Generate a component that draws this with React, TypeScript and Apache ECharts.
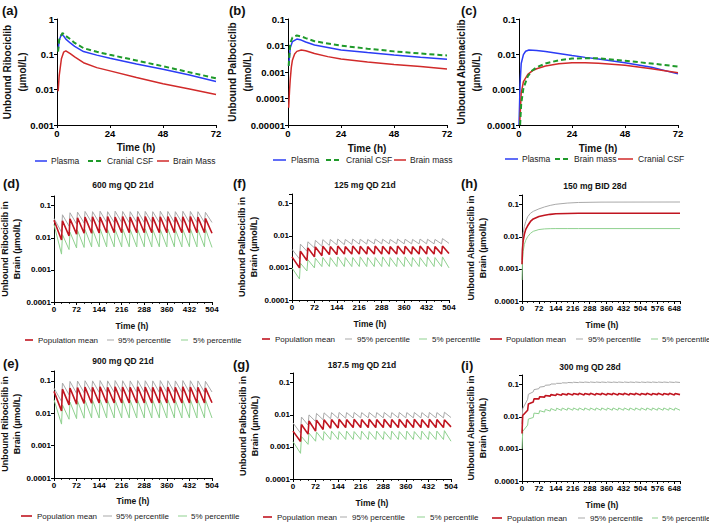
import React, { useEffect, useRef } from "react";
import * as echarts from "echarts";

const FONT = "'Liberation Sans', Arial, Helvetica, sans-serif";

// ---------- Row 1: single-dose profiles (0-72 h) ----------
const aPlasmaT = [0.5, 1, 2, 3, 4, 6, 8, 12, 18, 24, 36, 48, 60, 72];
const aPlasmaV = [0.13, 0.25, 0.37, 0.33, 0.27, 0.21, 0.168, 0.12, 0.095, 0.078, 0.053, 0.038, 0.026, 0.017];
const aCsfT = [0.5, 1, 2.5, 4, 6, 8, 12, 18, 24, 36, 48, 60, 72];
const aCsfV = [0.12, 0.26, 0.4, 0.33, 0.27, 0.21, 0.15, 0.118, 0.097, 0.067, 0.046, 0.031, 0.021];
const aBrainT = [0.5, 1, 2, 3, 4, 6, 8, 12, 18, 24, 36, 48, 60, 72];
const aBrainV = [0.009, 0.025, 0.075, 0.115, 0.125, 0.105, 0.085, 0.058, 0.042, 0.034, 0.022, 0.0148, 0.0105, 0.0073];

const bPlasmaT = [0.3, 1, 2, 4, 6, 8, 12, 24, 36, 48, 60, 72];
const bPlasmaV = [0.0017, 0.008, 0.014, 0.0175, 0.016, 0.0135, 0.0105, 0.0068, 0.0054, 0.0044, 0.0036, 0.003];
const bCsfT = [0.3, 1, 2, 4, 6, 8, 12, 24, 36, 48, 60, 72];
const bCsfV = [0.0017, 0.012, 0.02, 0.024, 0.022, 0.019, 0.0145, 0.0098, 0.0076, 0.006, 0.005, 0.0042];
const bBrainT = [0.3, 0.7, 1, 1.5, 2, 3, 4, 6, 8, 12, 18, 24, 36, 48, 60, 72];
const bBrainV = [0.000045, 0.0002, 0.0005, 0.0015, 0.0028, 0.0048, 0.006, 0.0068, 0.0063, 0.005, 0.0038, 0.0031, 0.0024, 0.0019, 0.0016, 0.0013];

const cPlasmaT = [0, 0.5, 1, 2, 3, 4.5, 8, 12, 24, 30, 36, 48, 60, 72];
const cPlasmaV = [0.0001, 0.0015, 0.0055, 0.0098, 0.0122, 0.0132, 0.0128, 0.012, 0.0092, 0.0082, 0.0074, 0.0058, 0.0043, 0.0028];
const cBrainT = [0.5, 1, 2, 4, 6, 8, 12, 18, 24, 30, 36, 48, 60, 72];
const cBrainV = [0.0001, 0.0004, 0.0011, 0.0024, 0.0035, 0.0043, 0.0055, 0.0068, 0.0076, 0.0078, 0.0077, 0.0066, 0.0055, 0.0045];
const cCsfT = [0.3, 1, 2, 4, 6, 8, 12, 18, 24, 30, 36, 48, 60, 72];
const cCsfV = [0.0001, 0.0008, 0.0017, 0.0027, 0.0034, 0.0039, 0.0047, 0.0054, 0.0058, 0.0058, 0.0056, 0.0049, 0.0039, 0.003];

// ---------- Rows 2-3: 21-day QD (troughs at dose time, peaks 3 h later) ----------
const T21 = [0, 24, 27, 48, 51, 72, 75, 96, 99, 120, 123, 144, 147, 168, 171, 192, 195, 216, 219, 240, 243,
  264, 267, 288, 291, 312, 315, 336, 339, 360, 363, 384, 387, 408, 411, 432, 435, 456, 459, 480, 483, 504];

const dMean = [0.035,
  0.0085, 0.034, 0.0115, 0.039, 0.013, 0.042, 0.0138, 0.044, 0.014, 0.045,
  0.0142, 0.044, 0.0143, 0.046, 0.0143, 0.044, 0.0143, 0.046, 0.0143, 0.044,
  0.0143, 0.045, 0.0143, 0.046, 0.0143, 0.044, 0.0143, 0.045, 0.0143, 0.046,
  0.0143, 0.044, 0.0143, 0.045, 0.0143, 0.046, 0.0143, 0.044, 0.0143, 0.040,
  0.0138];
const d95 = [0.040,
  0.015, 0.052, 0.023, 0.060, 0.027, 0.063, 0.029, 0.066, 0.030, 0.065,
  0.030, 0.067, 0.030, 0.065, 0.030, 0.067, 0.030, 0.066, 0.030, 0.065,
  0.030, 0.067, 0.030, 0.066, 0.030, 0.065, 0.030, 0.067, 0.030, 0.066,
  0.030, 0.065, 0.030, 0.067, 0.030, 0.066, 0.030, 0.065, 0.030, 0.062,
  0.030];
const d5 = [0.026,
  0.0031, 0.0125, 0.0043, 0.015, 0.0048, 0.017, 0.0050, 0.018, 0.0052, 0.018,
  0.0052, 0.019, 0.0052, 0.018, 0.0052, 0.018, 0.0052, 0.019, 0.0052, 0.018,
  0.0052, 0.018, 0.0052, 0.019, 0.0052, 0.018, 0.0052, 0.018, 0.0052, 0.019,
  0.0052, 0.018, 0.0052, 0.018, 0.0052, 0.019, 0.0052, 0.018, 0.0052, 0.019,
  0.0050];

const eMean = [0.047,
  0.0118, 0.055, 0.018, 0.060, 0.019, 0.062, 0.020, 0.064, 0.0203, 0.063,
  0.0205, 0.065, 0.0205, 0.063, 0.0205, 0.065, 0.0205, 0.064, 0.0205, 0.063,
  0.0205, 0.065, 0.0205, 0.064, 0.0205, 0.063, 0.0205, 0.065, 0.0205, 0.064,
  0.0205, 0.063, 0.0205, 0.065, 0.0205, 0.064, 0.0205, 0.063, 0.0205, 0.060,
  0.021];
const e95 = [0.059,
  0.023, 0.085, 0.037, 0.095, 0.041, 0.098, 0.043, 0.100, 0.044, 0.099,
  0.044, 0.101, 0.044, 0.099, 0.044, 0.101, 0.044, 0.100, 0.044, 0.099,
  0.044, 0.101, 0.044, 0.100, 0.044, 0.099, 0.044, 0.101, 0.044, 0.100,
  0.044, 0.099, 0.044, 0.101, 0.044, 0.100, 0.044, 0.099, 0.044, 0.096,
  0.045];
const e5 = [0.026,
  0.0046, 0.018, 0.0065, 0.022, 0.0068, 0.024, 0.0070, 0.025, 0.0071, 0.025,
  0.0071, 0.026, 0.0071, 0.025, 0.0071, 0.025, 0.0071, 0.026, 0.0071, 0.025,
  0.0071, 0.025, 0.0071, 0.026, 0.0071, 0.025, 0.0071, 0.025, 0.0071, 0.026,
  0.0071, 0.025, 0.0071, 0.025, 0.0071, 0.026, 0.0071, 0.025, 0.0071, 0.026,
  0.0071];

const fMean = [0.0022,
  0.0010, 0.0033, 0.0017, 0.0042, 0.0022, 0.0045, 0.0024, 0.0047, 0.0026, 0.0046,
  0.0026, 0.0048, 0.0027, 0.0046, 0.0027, 0.0048, 0.0027, 0.0047, 0.0027, 0.0046,
  0.0027, 0.0048, 0.0027, 0.0047, 0.0027, 0.0046, 0.0027, 0.0048, 0.0027, 0.0047,
  0.0027, 0.0046, 0.0027, 0.0048, 0.0027, 0.0047, 0.0027, 0.0046, 0.0027, 0.0048,
  0.0028];
const f95 = [0.0038,
  0.0019, 0.0055, 0.0033, 0.0065, 0.0042, 0.0072, 0.0047, 0.0076, 0.0050, 0.0077,
  0.0052, 0.0079, 0.0053, 0.0077, 0.0054, 0.0079, 0.0055, 0.0078, 0.0055, 0.0077,
  0.0056, 0.0079, 0.0056, 0.0078, 0.0056, 0.0077, 0.0056, 0.0079, 0.0056, 0.0078,
  0.0056, 0.0077, 0.0056, 0.0079, 0.0056, 0.0078, 0.0056, 0.0077, 0.0056, 0.0082,
  0.0058];
const f5 = [0.0010,
  0.00045, 0.0014, 0.0008, 0.0018, 0.0010, 0.0020, 0.0011, 0.0021, 0.0011, 0.0021,
  0.0011, 0.0022, 0.0011, 0.0021, 0.0011, 0.0021, 0.0011, 0.0022, 0.0011, 0.0021,
  0.0011, 0.0021, 0.0011, 0.0022, 0.0011, 0.0021, 0.0011, 0.0021, 0.0011, 0.0022,
  0.0011, 0.0021, 0.0011, 0.0021, 0.0011, 0.0022, 0.0011, 0.0021, 0.0011, 0.0022,
  0.0010];

const gMean = [0.0031,
  0.00147, 0.0050, 0.0025, 0.0064, 0.0031, 0.0068, 0.0035, 0.0070, 0.0038, 0.0071,
  0.0039, 0.0072, 0.0040, 0.0071, 0.0040, 0.0072, 0.0040, 0.0071, 0.0040, 0.0072,
  0.0040, 0.0071, 0.0040, 0.0072, 0.0040, 0.0071, 0.0040, 0.0072, 0.0040, 0.0071,
  0.0040, 0.0072, 0.0040, 0.0071, 0.0040, 0.0072, 0.0040, 0.0071, 0.0040, 0.0070,
  0.0042];
const g95 = [0.0056,
  0.0027, 0.0085, 0.0048, 0.0099, 0.0062, 0.0110, 0.0070, 0.0115, 0.0075, 0.0117,
  0.0077, 0.0118, 0.0078, 0.0117, 0.0079, 0.0118, 0.0080, 0.0117, 0.0080, 0.0118,
  0.0080, 0.0117, 0.0080, 0.0118, 0.0080, 0.0117, 0.0080, 0.0118, 0.0080, 0.0117,
  0.0080, 0.0118, 0.0080, 0.0117, 0.0080, 0.0118, 0.0080, 0.0117, 0.0080, 0.0120,
  0.0082];
const g5 = [0.00147,
  0.00063, 0.0021, 0.0012, 0.0027, 0.0015, 0.0029, 0.0016, 0.0030, 0.0017, 0.0031,
  0.0017, 0.0030, 0.0017, 0.0031, 0.0017, 0.0030, 0.0017, 0.0031, 0.0017, 0.0030,
  0.0017, 0.0031, 0.0017, 0.0030, 0.0017, 0.0031, 0.0017, 0.0030, 0.0017, 0.0031,
  0.0017, 0.0030, 0.0017, 0.0031, 0.0017, 0.0030, 0.0017, 0.0031, 0.0017, 0.0032,
  0.0015];

// ---------- (h) 150 mg BID 28d ----------
const hT = [0, 2, 5, 10, 16, 24, 36, 48, 72, 96, 120, 144, 192, 240, 336, 672];
const hMean = [0.0014, 0.004, 0.0075, 0.012, 0.017, 0.022, 0.030, 0.036, 0.043, 0.047, 0.050, 0.052, 0.053, 0.054, 0.054, 0.054];
const h95 = [0.0019, 0.007, 0.013, 0.021, 0.030, 0.042, 0.054, 0.062, 0.074, 0.085, 0.095, 0.103, 0.112, 0.117, 0.120, 0.121];
const h5 = [0.00045, 0.0017, 0.0035, 0.0058, 0.0078, 0.0100, 0.0128, 0.0148, 0.0168, 0.0176, 0.0179, 0.0180, 0.0180, 0.0180, 0.0180, 0.0180];

// ---------- (i) 300 mg QD 28d ----------
const T28 = [0, 3, 24, 27, 48, 51, 72, 75, 96, 99, 120, 123, 144, 147, 168, 171, 192, 195, 216, 219, 240, 243,
  264, 267, 288, 291, 312, 315, 336, 339, 360, 363, 384, 387, 408, 411, 432, 435, 456, 459, 480, 483,
  504, 507, 528, 531, 552, 555, 576, 579, 600, 603, 624, 627, 648, 651, 672];
const iMean = [0.003, 0.011,
  0.016, 0.025, 0.029, 0.036, 0.036, 0.042, 0.041, 0.046, 0.044, 0.049,
  0.046, 0.051, 0.047, 0.052, 0.048, 0.053, 0.048, 0.053, 0.049, 0.054,
  0.048, 0.053, 0.049, 0.054, 0.048, 0.053, 0.049, 0.054, 0.048, 0.053,
  0.049, 0.054, 0.048, 0.053, 0.049, 0.054, 0.048, 0.053, 0.049, 0.054,
  0.048, 0.053, 0.049, 0.054, 0.048, 0.053, 0.049, 0.054, 0.048, 0.053,
  0.049, 0.054, 0.048, 0.053,
  0.049];
const i95 = [0.006, 0.018,
  0.035, 0.050, 0.060, 0.070, 0.075, 0.084, 0.088, 0.096, 0.098, 0.105,
  0.105, 0.110, 0.110, 0.114, 0.113, 0.117, 0.115, 0.119, 0.116, 0.120,
  0.117, 0.121, 0.117, 0.121, 0.117, 0.121, 0.117, 0.121, 0.117, 0.121,
  0.117, 0.121, 0.117, 0.121, 0.117, 0.121, 0.117, 0.121, 0.117, 0.121,
  0.117, 0.121, 0.117, 0.121, 0.117, 0.121, 0.117, 0.121, 0.117, 0.121,
  0.117, 0.121, 0.117, 0.121,
  0.117];
const i5 = [0.001, 0.0035,
  0.0055, 0.0085, 0.0095, 0.0130, 0.0125, 0.0155, 0.0140, 0.0170, 0.0150, 0.0180,
  0.0155, 0.0185, 0.0158, 0.0187, 0.0160, 0.0188, 0.0160, 0.0188, 0.0160, 0.0188,
  0.0160, 0.0188, 0.0160, 0.0188, 0.0160, 0.0188, 0.0160, 0.0188, 0.0160, 0.0188,
  0.0160, 0.0188, 0.0160, 0.0188, 0.0160, 0.0188, 0.0160, 0.0188, 0.0160, 0.0188,
  0.0160, 0.0188, 0.0160, 0.0188, 0.0160, 0.0188, 0.0160, 0.0188, 0.0160, 0.0188,
  0.0160, 0.0188, 0.0160, 0.0188,
  0.0160];

// ---------- text ----------
const panelLetters = ["(a)", "(b)", "(c)", "(d)", "(f)", "(h)", "(e)", "(g)", "(i)"];
const panelTitles = ["", "", "", "600 mg QD 21d", "125 mg QD 21d", "150 mg BID 28d", "900 mg QD 21d", "187.5 mg QD 21d", "300 mg QD 28d"];
const yNames = [
  "Unbound Ribociclib\n(µmol/L)", "Unbound Palbociclib\n(µmol/L)", "Unbound Abemaciclib\n(µmol/L)",
  "Unbound Ribociclib in\nBrain (µmol/L)", "Unbound Palbociclib in\nBrain (µmol/L)", "Unbound Abemaciclib in\nBrain (µmol/L)",
  "Unbound Ribociclib in\nBrain (µmol/L)", "Unbound Palbociclib in\nBrain (µmol/L)", "Unbound Abemaciclib in\nBrain (µmol/L)",
];
const xName = "Time (h)";
const legendRow1a = ["Plasma", "Cranial CSF", "Brain Mass"];
const legendRow1b = ["Plasma", "Cranial CSF", "Brain mass"];
const legendRow1c = ["Plasma", "Brain mass", "Cranial CSF"];
const legendPop = ["Population mean", "95% percentile", "5% percentile"];

const BLUE = "#2b3cf5";
const DGREEN = "#1f9a2a";
const RED1 = "#d12a2a";
const MEAN = "#c01520";
const GREY = "#a9a9a9";
const LGREEN = "#8fd18f";
const TXT = "#111";

// grid boxes in pixels (order a,b,c,d,f,h,e,g,i)
const GRIDS = [
  { left: 57, top: 19, width: 159, height: 106 },
  { left: 288, top: 19, width: 159, height: 106 },
  { left: 519, top: 19, width: 159, height: 106 },
  { left: 54, top: 196, width: 158, height: 106 },
  { left: 292, top: 194, width: 157, height: 106 },
  { left: 522, top: 195, width: 158, height: 106 },
  { left: 54, top: 371, width: 158, height: 107 },
  { left: 293, top: 373, width: 158, height: 106 },
  { left: 522, top: 375, width: 158, height: 106 },
];

const logFmt = (v: number) => {
  const e = Math.log10(v);
  const r = Math.round(e);
  if (Math.abs(e - r) > 1e-6) return "";
  return r >= 0 ? String(Math.pow(10, r)) : "0." + "0".repeat(-r - 1) + "1";
};

const axisLineStyle = { color: "#000", width: 1 };

function xAx(gi: number, max: number, interval: number, fs: number, minor: boolean) {
  return {
    type: "value", gridIndex: gi, min: 0, max, interval,
    axisLine: { show: true, onZero: false, lineStyle: axisLineStyle },
    axisTick: { show: true, length: 3, lineStyle: axisLineStyle },
    minorTick: { show: minor, splitNumber: 3, length: 2, lineStyle: { color: "#000", width: 0.8 } },
    splitLine: { show: false }, minorSplitLine: { show: false },
    axisLabel: {
      show: true, fontSize: fs, fontWeight: "bold", fontFamily: FONT, color: "#000", margin: 3,
      showMinLabel: true, showMaxLabel: true,
      formatter: (v: number) => (Math.abs(v % interval) < 1e-9 ? String(v) : ""),
    },
  };
}

function yAx(gi: number, min: number, max: number, fs: number) {
  return {
    type: "log", logBase: 10, gridIndex: gi, min, max,
    axisLine: { show: true, onZero: false, lineStyle: axisLineStyle },
    axisTick: { show: true, length: 3, lineStyle: axisLineStyle },
    splitLine: { show: false },
    axisLabel: {
      show: true, fontSize: fs, fontWeight: "bold", fontFamily: FONT, color: "#000", margin: 3,
      showMinLabel: true, showMaxLabel: true, formatter: logFmt,
    },
  };
}

function line(gi: number, name: string, T: number[], V: number[], color: string, width: number, dashed = false, z = 2) {
  return {
    type: "line", name, xAxisIndex: gi, yAxisIndex: gi,
    data: T.map((t, i) => [t, V[i]]),
    symbol: "none", showSymbol: false, silent: true, z,
    lineStyle: { color, width, type: dashed ? [5, 3] : "solid" },
    itemStyle: { color },
  };
}

function txt(x: number, y: number, text: string, size: number, weight: string, align: string, extra: any = {}) {
  return {
    type: "text", x, y, silent: true, ...extra,
    style: {
      text, fill: TXT, fontSize: size, fontWeight: weight, fontFamily: FONT,
      textAlign: align, textVerticalAlign: "middle", align, verticalAlign: "middle",
      lineHeight: extra.lineHeight || size * 1.2,
    },
  };
}

function legItem(y: number, x1: number, x2: number, tx: number, label: string, color: string, width: number, dashed: boolean, fs: number) {
  return [
    {
      type: "line", silent: true,
      shape: { x1, y1: y, x2, y2: y },
      style: { stroke: color, lineWidth: width, lineDash: dashed ? [5, 3] : null },
    },
    {
      type: "text", x: tx, y, silent: true,
      style: {
        text: label, fill: "#222", fontSize: fs, fontFamily: FONT,
        textAlign: "left", textVerticalAlign: "middle", align: "left", verticalAlign: "middle",
      },
    },
  ];
}

function buildOption() {
  const xAxis = [
    xAx(0, 72, 24, 9.5, false), xAx(1, 72, 24, 9.5, false), xAx(2, 72, 24, 9.5, false),
    xAx(3, 504, 72, 8, true), xAx(4, 504, 72, 8, true), xAx(5, 672, 72, 8, true),
    xAx(6, 504, 72, 8, true), xAx(7, 504, 72, 8, true), xAx(8, 672, 72, 8, true),
  ];
  const yAxis = [
    yAx(0, 0.001, 1, 9.5), yAx(1, 0.00001, 0.1, 9.5), yAx(2, 0.0001, 0.1, 9.5),
    yAx(3, 0.0001, 0.2, 8), yAx(4, 0.0001, 0.2, 8), yAx(5, 0.0001, 0.2, 8),
    yAx(6, 0.0001, 0.2, 8), yAx(7, 0.0001, 0.2, 8), yAx(8, 0.0001, 0.2, 8),
  ];

  const series: any[] = [
    line(0, "Plasma", aPlasmaT, aPlasmaV, BLUE, 1.5, false, 2),
    line(0, "Cranial CSF", aCsfT, aCsfV, DGREEN, 2, true, 3),
    line(0, "Brain Mass", aBrainT, aBrainV, RED1, 1.5, false, 2),
    line(1, "Plasma", bPlasmaT, bPlasmaV, BLUE, 1.5, false, 2),
    line(1, "Cranial CSF", bCsfT, bCsfV, DGREEN, 2, true, 3),
    line(1, "Brain mass", bBrainT, bBrainV, RED1, 1.5, false, 2),
    line(2, "Plasma", cPlasmaT, cPlasmaV, BLUE, 1.5, false, 2),
    line(2, "Cranial CSF", cCsfT, cCsfV, RED1, 1.5, false, 2),
    line(2, "Brain mass", cBrainT, cBrainV, DGREEN, 2, true, 3),
  ];
  const pop: [number, number[], number[], number[], number[]][] = [
    [3, T21, d95, d5, dMean], [4, T21, f95, f5, fMean], [5, hT, h95, h5, hMean],
    [6, T21, e95, e5, eMean], [7, T21, g95, g5, gMean], [8, T28, i95, i5, iMean],
  ];
  pop.forEach(([gi, T, hi, lo, mean]) => {
    series.push(line(gi, legendPop[1], T, hi, GREY, 1, false, 2));
    series.push(line(gi, legendPop[2], T, lo, LGREEN, 1, false, 2));
    series.push(line(gi, legendPop[0], T, mean, MEAN, 1.6, false, 3));
  });

  const g: any[] = [];
  // panel letters
  const letterPos = [[2, 10], [229, 10], [461, 10], [3, 183], [233, 183], [461, 183], [3, 363], [233, 364], [461, 365]];
  letterPos.forEach(([x, y], i) => g.push(txt(x, y, panelLetters[i], 13, "bold", "left")));
  // titles
  const titlePos = [[0, 0], [0, 0], [0, 0], [123, 185], [365, 185], [595, 186], [123, 361], [362, 365], [590, 367]];
  titlePos.forEach(([x, y], i) => { if (panelTitles[i]) g.push(txt(x, y, panelTitles[i], 8.5, "bold", "center")); });
  // y-axis names (rotated)
  const yNamePos = [[15, 72, 15, 10], [240, 72, 15, 10], [469, 72, 15, 10],
    [11, 249, 12, 9], [248, 247, 12, 9], [477, 248, 12, 9],
    [11, 424, 12, 9], [249, 426, 12, 9], [477, 428, 12, 9]];
  yNamePos.forEach(([x, y, lh, fs], i) =>
    g.push(txt(x, y, yNames[i], fs, "bold", "center", { rotation: Math.PI / 2, lineHeight: lh })));
  // x-axis names
  const xNamePos = [[136, 147, 10], [367, 148, 10], [598, 148, 10],
    [132, 326, 8.5], [370, 324, 8.5], [602, 325, 8.5],
    [133, 501, 8.5], [372, 503, 8.5], [602, 505, 8.5]];
  xNamePos.forEach(([x, y, fs]) => g.push(txt(x, y, xName, fs, "bold", "center")));

  // legends row 1
  g.push(...legItem(161, 35, 47, 51, legendRow1a[0], BLUE, 1.5, false, 8.5));
  g.push(...legItem(161, 88, 104, 107, legendRow1a[1], DGREEN, 2, true, 8.5));
  g.push(...legItem(161, 157, 169, 173, legendRow1a[2], RED1, 1.5, false, 8.5));

  g.push(...legItem(160, 273, 286, 291, legendRow1b[0], BLUE, 1.5, false, 8.5));
  g.push(...legItem(160, 326, 342, 346, legendRow1b[1], DGREEN, 2, true, 8.5));
  g.push(...legItem(160, 394, 406, 410, legendRow1b[2], RED1, 1.5, false, 8.5));

  g.push(...legItem(159, 505, 518, 522, legendRow1c[0], BLUE, 1.5, false, 8.5));
  g.push(...legItem(159, 555, 571, 574, legendRow1c[1], DGREEN, 2, true, 8.5));
  g.push(...legItem(159, 618, 633, 638, legendRow1c[2], RED1, 1.5, false, 8.5));

  // legends rows 2-3
  const popLeg = [
    [340, 25, 33, 38, 107, 114, 118, 181, 188, 193],
    [339, 262, 270, 275, 345, 352, 357, 419, 427, 432],
    [339, 490, 502, 506, 576, 583, 588, 651, 658, 662],
    [516, 21, 32, 37, 103, 112, 116, 178, 187, 191],
    [517, 263, 272, 277, 340, 347, 352, 417, 425, 430],
    [518, 492, 502, 507, 578, 585, 590, 652, 658, 662],
  ];
  popLeg.forEach(([y, r1, r2, rt, g1, g2, gt, l1, l2, lt]) => {
    g.push(...legItem(y, r1, r2, rt, legendPop[0], MEAN, 1.6, false, 8));
    g.push(...legItem(y, g1, g2, gt, legendPop[1], GREY, 1, false, 8));
    g.push(...legItem(y, l1, l2, lt, legendPop[2], LGREEN, 1, false, 8));
  });

  return {
    animation: false,
    backgroundColor: "#fff",
    grid: GRIDS.map((b) => ({ ...b, containLabel: false, outerBoundsMode: "none" })),
    xAxis,
    yAxis,
    series,
    graphic: { elements: g },
  };
}

export default function App() {
  const ref = useRef<HTMLDivElement>(null);
  useEffect(() => {
    document.body.style.margin = "0";
    const chart = echarts.init(ref.current as HTMLDivElement, null, { renderer: "svg" });
    chart.setOption(buildOption() as any);
    return () => chart.dispose();
  }, []);
  return <div ref={ref} style={{ width: 709, height: 524, background: "#fff" }} />;
}
